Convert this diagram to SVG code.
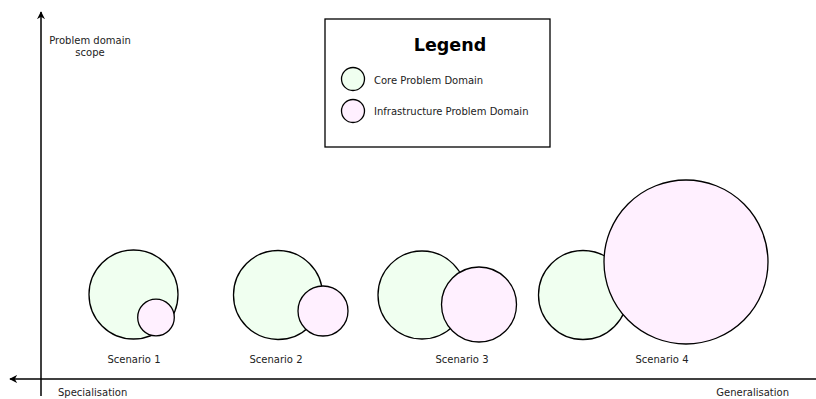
<svg xmlns="http://www.w3.org/2000/svg" width="816" height="399" viewBox="0 0 816 399">
  <style>
    text { font-family: "DejaVu Sans", "Liberation Sans", sans-serif; font-size: 10px; fill: #222; }
    .core { fill: #f0fff0; stroke: #000; stroke-width: 1.3; }
    .infra { fill: #fff0ff; stroke: #000; stroke-width: 1.3; }
    .axis { stroke: #000; stroke-width: 1.5; fill: none; }
    .title { font-size: 17.5px; font-weight: bold; fill: #000; }
  </style>
  <defs>
    <marker id="arrow" viewBox="0 0 10 10" refX="9" refY="5" markerWidth="8" markerHeight="8" markerUnits="userSpaceOnUse" orient="auto">
      <path d="M0,0 L10,5 L0,10 L3,5 Z" fill="#000"/>
    </marker>
  </defs>
  <rect width="816" height="399" fill="#fff"/>

  <!-- axes -->
  <g id="axes">
    <line class="axis" x1="41" y1="396" x2="41" y2="12" marker-end="url(#arrow)"/>
    <line class="axis" x1="816" y1="379" x2="10" y2="379" marker-end="url(#arrow)"/>
    <text x="90" y="44" text-anchor="middle">Problem domain</text>
    <text x="90" y="56" text-anchor="middle">scope</text>
    <text x="58" y="396">Specialisation</text>
    <text x="789" y="396" text-anchor="end">Generalisation</text>
  </g>

  <!-- legend -->
  <g id="legend">
    <rect x="325" y="19" width="225" height="128" fill="#fff" stroke="#000" stroke-width="1.3"/>
    <text class="title" x="450" y="51" text-anchor="middle">Legend</text>
    <circle class="core" cx="353" cy="79" r="11.5"/>
    <text x="374" y="84">Core Problem Domain</text>
    <circle class="infra" cx="353" cy="111" r="11.5"/>
    <text x="374" y="115">Infrastructure Problem Domain</text>
  </g>

  <g id="scenario1">
    <circle class="core" cx="133.5" cy="294.5" r="44.5"/>
    <circle class="infra" cx="156" cy="317.5" r="18.3"/>
    <text x="134" y="363" text-anchor="middle">Scenario 1</text>
  </g>

  <g id="scenario2">
    <circle class="core" cx="278" cy="295" r="44.5"/>
    <circle class="infra" cx="323" cy="311" r="25"/>
    <text x="276" y="363" text-anchor="middle">Scenario 2</text>
  </g>

  <g id="scenario3">
    <circle class="core" cx="422" cy="295" r="44"/>
    <circle class="infra" cx="479" cy="304.5" r="37.5"/>
    <text x="462" y="363" text-anchor="middle">Scenario 3</text>
  </g>

  <g id="scenario4">
    <circle class="core" cx="583" cy="295" r="44.5"/>
    <circle class="infra" cx="686" cy="262" r="82"/>
    <text x="662" y="363" text-anchor="middle">Scenario 4</text>
  </g>
</svg>
